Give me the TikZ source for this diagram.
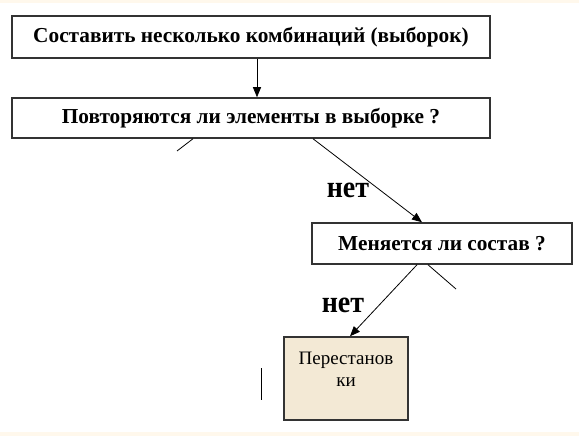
\documentclass[tikz,border=0pt]{standalone}
\usepackage{fontspec}
\setmainfont{Liberation Serif}
\usepackage{tikz}
\usetikzlibrary{arrows.meta}
\usetikzlibrary{positioning}
\definecolor{cream}{HTML}{FFF8EC}
\definecolor{beige}{HTML}{F3E9D5}
\definecolor{boxline}{HTML}{333333}
\tikzstyle{step box}=[shape=rectangle,draw=boxline,line width=1.5pt,inner sep=0pt,font=\bfseries\fontsize{21.3}{24}\selectfont]
\tikzstyle{leaf}=[shape=rectangle,draw=boxline,line width=1.5pt,fill=beige,inner sep=0pt,align=center,font=\fontsize{19}{22}\selectfont]
\tikzstyle{tran}=[draw,->,>={Triangle[length=10pt,width=8pt]},line width=0.8pt]
\tikzstyle{stub}=[draw,line width=0.8pt]
\tikzstyle{no}=[font=\bfseries\fontsize{28}{28}\selectfont,yscale=1.1,inner sep=0pt]

\begin{document}
\begin{tikzpicture}[x=1pt,y=-1pt]
		\fill[cream] (0,0) rectangle (579,436);
		\fill[white] (0,3) rectangle (579,432);
		\useasboundingbox (0,0) rectangle (579,436);
		\node[step box,minimum width=478pt,minimum height=42pt] (make) at (251,37) {Составить несколько комбинаций (выборок)};
		\node[step box,minimum width=478pt,minimum height=40pt] (repeat) at (251,118) {Повторяются ли элементы в выборке ?};
		\node[step box,minimum width=260pt,minimum height=41pt] (change) at (442,243.5) {Меняется ли состав ?};
		\node[leaf,minimum width=124pt,minimum height=83pt,text depth=17.6pt] (perm) at (346,378.5) {Перестанов\\ки};
		\coordinate (yesA) at (177,151);
		\coordinate (yesB) at (456,289);
		\coordinate (markT) at (261,368);
		\coordinate (markB) at (261,400);
%
		\draw[tran] ([xshift=6pt]make.south) -- ([xshift=6pt]repeat.north);
		\draw[stub] ([xshift=-58pt]repeat.south) -- (yesA);
		\draw[tran] ([xshift=62pt]repeat.south) -- ([xshift=-20pt]change.north);
		\node[no] (no1) at (348,190) {нет};
		\draw[stub] ([xshift=-14pt]change.south) -- (yesB);
		\draw[tran] ([xshift=-25pt]change.south) -- ([xshift=4pt]perm.north);
		\node[no] (no2) at (343,305) {нет};
		\draw[stub,line width=0.6pt] (markT) -- (markB);
\end{tikzpicture}
\end{document}
